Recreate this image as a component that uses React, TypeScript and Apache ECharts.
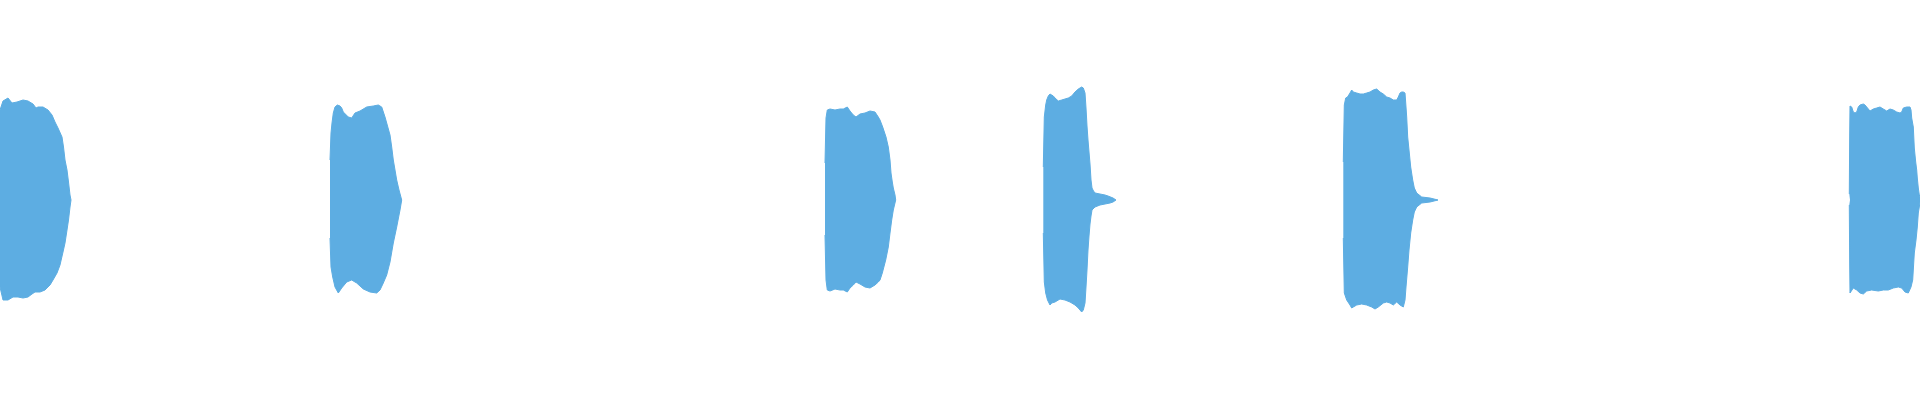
import React, { useEffect, useRef } from "react";
import * as echarts from "echarts";

// Time axis extent (arbitrary time units) and amplitude range (normalized)
const timeRange = [0, 1920];
const ampRange = [-1, 1];

// Envelope of each audio burst: [time, amplitude]
const burst1Upper = [[0,0.45],[1,0.465],[3,0.495],[8,0.51],[12,0.485],[17,0.49],[23,0.5],[28,0.495],[33,0.48],[36,0.46],[38,0.465],[43,0.465],[48,0.45],[52,0.425],[55,0.39],[58,0.36],[62,0.315],[63.5,0.265],[65,0.2],[67,0.15],[68.5,0.09],[70,0.025],[71,0]];
const burst1Lower = [[0,-0.435],[3,-0.5],[8,-0.5],[13,-0.485],[18,-0.485],[23,-0.49],[28,-0.485],[32,-0.47],[35,-0.46],[40,-0.46],[45,-0.45],[50,-0.425],[53,-0.4],[57,-0.365],[60,-0.325],[63,-0.26],[65,-0.215],[67,-0.15],[68.5,-0.1],[70,-0.035],[71,0]];

const burst2Upper = [[330,0.2],[331,0.335],[332,0.385],[333.3,0.435],[335,0.465],[337.3,0.475],[340,0.47],[341.7,0.46],[343.3,0.44],[348.3,0.415],[351.7,0.41],[355,0.435],[360,0.445],[366.7,0.465],[373.3,0.47],[378.3,0.475],[381.7,0.465],[385,0.415],[386.7,0.385],[390,0.325],[391.7,0.265],[393.3,0.2],[395,0.15],[396.7,0.1],[399,0.05],[401.7,0]];
const burst2Lower = [[330,-0.19],[331,-0.335],[332.7,-0.385],[335,-0.435],[338.3,-0.465],[341.7,-0.44],[346.7,-0.41],[351.7,-0.4],[356.7,-0.415],[363.3,-0.445],[370,-0.46],[376.7,-0.465],[380,-0.45],[383.3,-0.415],[386.7,-0.375],[390,-0.31],[393.3,-0.215],[396.7,-0.135],[400,-0.05],[401.7,0]];

const burst3Upper = [[825,0.185],[826,0.41],[827.3,0.45],[830,0.455],[835,0.45],[840,0.455],[843.3,0.455],[847.3,0.465],[850,0.445],[853.3,0.425],[856,0.415],[860,0.43],[865,0.435],[870,0.445],[875,0.44],[878.3,0.415],[880,0.4],[882.7,0.365],[886,0.315],[888.3,0.265],[890,0.2],[891,0.135],[892.3,0.09],[893.3,0.06],[895,0.025],[895.7,0]];
const burst3Lower = [[825,-0.175],[826,-0.4],[827.3,-0.45],[830,-0.455],[835,-0.445],[840,-0.45],[843.3,-0.45],[847.3,-0.46],[850,-0.44],[853.3,-0.425],[856,-0.41],[860,-0.42],[865,-0.435],[870,-0.44],[875,-0.425],[878.3,-0.41],[880,-0.4],[882.3,-0.365],[885.7,-0.3],[888.3,-0.235],[890,-0.165],[891.7,-0.1],[893.3,-0.05],[895.7,0]];

const burst4Upper = [[1043.3,0.165],[1044.3,0.415],[1045.7,0.475],[1046.7,0.5],[1048.3,0.52],[1050,0.53],[1051.7,0.525],[1053.3,0.52],[1055,0.51],[1058.3,0.495],[1061.7,0.5],[1065,0.505],[1068.3,0.51],[1071.7,0.52],[1075,0.54],[1078.3,0.555],[1081.7,0.565],[1083.3,0.56],[1085,0.535],[1086,0.46],[1087,0.37],[1088,0.3],[1089,0.24],[1090,0.18],[1091,0.1],[1092,0.06],[1093.5,0.045],[1095,0.035],[1100,0.03],[1105,0.025],[1108,0.02],[1113,0.01],[1116,0]];
const burst4Lower = [[1043.3,-0.165],[1044.3,-0.41],[1045.7,-0.465],[1047.5,-0.5],[1050,-0.525],[1051.7,-0.515],[1055,-0.51],[1060,-0.495],[1065,-0.5],[1070,-0.51],[1075,-0.525],[1078.3,-0.54],[1081.7,-0.56],[1083.3,-0.55],[1085,-0.515],[1086,-0.435],[1087,-0.35],[1088,-0.25],[1089,-0.18],[1090,-0.12],[1091,-0.08],[1092,-0.05],[1095,-0.035],[1100,-0.025],[1105,-0.02],[1110,-0.015],[1113,-0.01],[1116,0]];

const burst5Upper = [[1343.3,0.19],[1344.3,0.475],[1345.7,0.51],[1347.5,0.515],[1350,0.535],[1351.7,0.55],[1353.3,0.54],[1356.7,0.535],[1360,0.53],[1363.3,0.53],[1366.7,0.535],[1370,0.54],[1373.3,0.55],[1376.7,0.555],[1380,0.54],[1383.3,0.53],[1386.7,0.515],[1390,0.51],[1393.3,0.5],[1396.7,0.5],[1398.3,0.515],[1400,0.535],[1401.7,0.54],[1403.3,0.54],[1405,0.535],[1406,0.465],[1406.7,0.415],[1407.7,0.315],[1409,0.25],[1410.7,0.165],[1412.7,0.1],[1414.3,0.06],[1416.7,0.035],[1421.7,0.015],[1430,0.01],[1438,0]];
const burst5Lower = [[1343.3,-0.19],[1344.3,-0.465],[1346.7,-0.5],[1350,-0.525],[1351.7,-0.54],[1353.3,-0.535],[1356.7,-0.525],[1361.7,-0.52],[1366.7,-0.525],[1371.7,-0.535],[1375,-0.545],[1378.3,-0.535],[1383.3,-0.515],[1386.7,-0.51],[1390,-0.515],[1393.3,-0.525],[1396.7,-0.51],[1400,-0.525],[1403.3,-0.535],[1405,-0.5],[1406,-0.435],[1407.7,-0.335],[1409,-0.25],[1410.7,-0.165],[1412.7,-0.1],[1414.3,-0.06],[1416.7,-0.035],[1421.7,-0.015],[1430,-0.01],[1438,0]];

const burst6Upper = [[1849.3,0.03],[1849.7,0.325],[1850,0.47],[1851.7,0.465],[1853.3,0.44],[1855,0.435],[1856.7,0.44],[1858.3,0.465],[1860,0.475],[1863.3,0.48],[1865,0.475],[1866.7,0.465],[1870,0.445],[1873.3,0.455],[1876.7,0.46],[1880,0.465],[1883.3,0.455],[1886.7,0.445],[1890,0.455],[1893.3,0.45],[1896.7,0.44],[1900,0.435],[1901.7,0.44],[1903.3,0.46],[1906.7,0.465],[1910,0.465],[1911,0.45],[1911.7,0.41],[1913.3,0.365],[1914.3,0.26],[1915.7,0.19],[1916.7,0.15],[1917.3,0.11],[1918.3,0.06],[1919.3,0.025],[1920,0.015]];
const burst6Lower = [[1849.3,-0.025],[1849.7,-0.325],[1850,-0.465],[1853.3,-0.44],[1856.7,-0.45],[1860,-0.465],[1863.3,-0.47],[1866.7,-0.455],[1871.7,-0.45],[1878.3,-0.455],[1883.3,-0.45],[1888.3,-0.45],[1893.3,-0.44],[1898.3,-0.435],[1901.7,-0.44],[1905,-0.46],[1908.3,-0.465],[1911,-0.435],[1912.7,-0.4],[1914.3,-0.265],[1916,-0.2],[1917.3,-0.135],[1918.3,-0.065],[1919.3,-0.035],[1920,-0.01]];

const bursts = [
  burst1Upper, burst1Lower,
  burst2Upper, burst2Lower,
  burst3Upper, burst3Lower,
  burst4Upper, burst4Lower,
  burst5Upper, burst5Lower,
  burst6Upper, burst6Lower,
];

const WAVE_COLOR = "#5DADE2";

export default function App() {
  const ref = useRef<HTMLDivElement>(null);

  useEffect(() => {
    if (!ref.current) return;
    const chart = echarts.init(ref.current, null, { renderer: "svg" });
    chart.setOption({
      animation: false,
      backgroundColor: "#ffffff",
      grid: { left: 0, right: 0, top: 0, bottom: 0 },
      xAxis: {
        type: "value",
        min: timeRange[0],
        max: timeRange[1],
        show: false,
      },
      yAxis: {
        type: "value",
        min: ampRange[0],
        max: ampRange[1],
        show: false,
      },
      series: bursts.map((d) => ({
        type: "line",
        data: d,
        symbol: "none",
        silent: true,
        lineStyle: { color: WAVE_COLOR, width: 1 },
        itemStyle: { color: WAVE_COLOR },
        areaStyle: { color: WAVE_COLOR, opacity: 1 },
      })),
    });
    return () => chart.dispose();
  }, []);

  return (
    <div
      ref={ref}
      style={{ position: "fixed", left: 0, top: 0, width: 1920, height: 400 }}
    />
  );
}
